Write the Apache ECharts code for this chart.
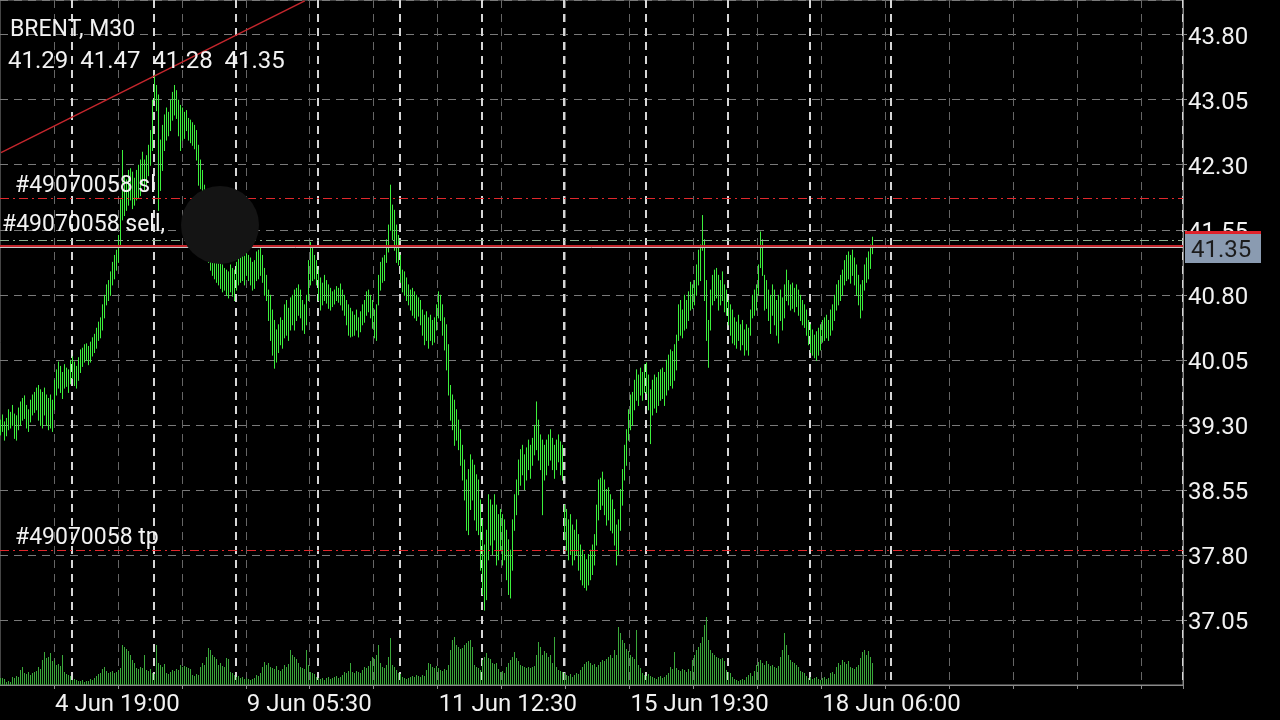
<!DOCTYPE html>
<html><head><meta charset="utf-8">
<script src="https://cdn.jsdelivr.net/npm/echarts@6/dist/echarts.min.js"></script>
<style>html,body{margin:0;padding:0;background:#000;}#c{width:1280px;height:720px;}</style>
</head><body><div id="c"></div>
<script>
const symbolName = 'BRENT, M30';
const orderId = '#49070058';
const timeLabels = ['4 Jun 19:00', '9 Jun 05:30', '11 Jun 12:30', '15 Jun 19:30', '18 Jun 06:00'];
const labelBars = [27, 123, 219, 315, 411];
const dayStartBars = [36, 77, 118, 159, 200, 241, 282, 323, 364, 405, 446];
const totalSlots = 592;
const gridEvery = 32;

const highs = [
39.36,39.42,39.34,39.38,39.48,39.45,39.53,39.43,39.41,39.50,39.57,39.61,39.64,39.53,39.48,39.59,39.65,39.68,39.73,39.76,39.71,39.68,39.73,39.65,39.61,
39.65,39.59,39.82,39.94,40.03,39.98,39.91,40.00,39.96,39.94,40.05,40.09,40.03,39.98,40.08,40.17,40.19,40.23,40.24,40.21,40.26,40.31,40.35,40.42,40.49,
40.54,40.69,40.80,40.92,40.97,41.07,41.18,41.26,41.32,41.49,41.90,42.47,42.18,42.13,42.24,42.26,42.22,42.15,42.24,42.30,42.36,42.45,42.36,42.41,42.53,
42.70,43.05,43.34,43.22,43.11,42.59,42.76,42.88,42.96,42.91,43.05,43.14,43.22,43.16,43.05,42.99,42.96,42.91,42.93,42.84,42.82,42.79,42.76,42.70,42.53,
42.36,42.24,42.07,41.78,41.49,41.38,41.32,41.26,41.23,41.18,41.23,41.15,41.11,41.09,41.07,41.15,41.11,41.09,41.18,41.23,41.26,41.30,41.25,41.32,41.26,
41.23,41.18,41.20,41.30,41.32,41.34,41.26,41.11,41.03,40.86,40.80,40.63,40.51,40.40,40.46,40.54,40.51,40.69,40.74,40.65,40.77,40.80,40.86,40.88,40.92,
40.86,40.74,40.69,40.80,41.20,41.41,41.34,41.26,41.20,41.09,41.00,40.94,41.03,40.97,40.92,40.88,40.84,40.86,40.90,40.88,40.93,40.86,40.80,40.74,40.69,
40.65,40.61,40.57,40.63,40.54,40.61,40.69,40.74,40.84,40.86,40.80,40.74,40.63,40.69,41.03,41.18,41.23,41.26,41.44,41.61,42.07,41.84,41.78,41.61,41.49,
41.26,41.09,41.07,41.00,40.92,40.86,40.88,40.84,40.80,40.77,40.74,40.63,40.57,40.61,40.54,40.57,40.51,40.54,40.69,40.84,40.80,40.69,40.54,40.46,40.23,
39.76,39.65,39.59,39.48,39.36,39.25,39.07,38.90,38.67,38.79,38.96,38.90,38.84,38.73,38.67,38.44,38.21,37.92,38.09,38.50,38.44,38.38,38.50,38.38,38.27,
38.33,38.27,38.21,38.09,37.98,37.86,38.21,38.50,38.67,38.90,39.02,39.07,38.96,39.04,39.13,39.07,39.15,39.30,39.57,39.36,39.19,39.13,39.07,39.13,39.19,
39.25,39.15,39.07,39.13,39.19,39.11,39.07,38.38,38.33,38.21,38.27,38.15,38.09,38.21,38.04,37.92,37.86,37.81,37.75,37.81,37.86,37.92,38.04,38.38,38.67,
38.69,38.76,38.67,38.56,38.58,38.50,38.44,38.33,38.15,38.21,38.56,38.79,39.07,39.25,39.48,39.65,39.68,39.82,39.94,39.88,39.96,39.91,40.00,40.02,39.88,
39.71,39.82,39.88,39.85,39.91,39.94,39.96,39.91,40.05,40.11,40.17,40.15,40.23,40.34,40.69,40.74,40.63,40.80,40.74,40.84,40.95,40.92,40.97,41.15,41.32,
41.38,41.72,41.44,40.97,40.51,40.86,41.03,41.09,41.11,41.03,40.97,41.07,40.92,40.86,40.74,40.69,40.63,40.54,40.49,40.57,40.46,40.51,40.40,40.46,40.42,
40.63,40.80,40.86,40.92,41.15,41.53,41.44,41.03,40.97,40.86,40.80,40.92,40.86,40.74,40.80,40.86,40.77,40.92,41.09,40.97,40.92,40.94,40.88,40.92,40.86,
40.80,40.74,40.69,40.63,40.51,40.46,40.40,40.34,40.38,40.42,40.46,40.51,40.54,40.57,40.51,40.63,40.69,40.80,40.92,40.97,41.03,41.09,41.20,41.26,41.30,41.26,41.32,41.23,41.15,41.03,40.92,40.97,41.15,41.23,41.30,41.38,41.47
];

const lows = [
39.19,39.23,39.13,39.18,39.25,39.27,39.30,39.15,39.13,39.25,39.30,39.36,39.38,39.27,39.23,39.34,39.42,39.45,39.48,39.36,39.30,39.27,39.42,39.30,39.25,
39.27,39.23,39.48,39.65,39.73,39.68,39.61,39.73,39.75,39.68,39.78,39.84,39.76,39.73,39.82,39.91,39.98,40.03,40.05,40.00,40.03,40.10,40.14,40.19,40.28,
40.31,40.40,40.54,40.69,40.74,40.80,40.92,40.99,41.09,41.18,41.38,41.67,41.72,41.78,41.84,41.90,41.80,41.84,41.90,41.92,41.95,42.07,42.01,42.07,42.18,
42.30,42.47,43.05,42.93,41.78,42.01,42.24,42.47,42.59,42.64,42.70,42.82,42.88,42.84,42.64,42.47,42.59,42.61,42.70,42.59,42.56,42.53,42.49,42.36,42.07,
42.03,41.90,41.61,41.32,41.18,41.09,41.03,40.99,40.95,40.92,40.88,40.84,40.86,40.80,40.77,40.84,40.79,40.74,40.86,40.92,40.95,40.97,40.92,41.03,40.97,
40.92,40.86,40.88,40.97,40.99,41.03,40.95,40.80,40.74,40.51,40.28,40.11,39.96,40.03,40.14,40.23,40.19,40.31,40.34,40.28,40.40,40.46,40.40,40.51,40.57,
40.54,40.40,40.36,40.46,40.74,40.92,40.97,40.99,40.92,40.74,40.63,40.69,40.74,40.71,40.65,40.63,40.67,40.70,40.74,40.72,40.69,40.63,40.57,40.46,40.34,
40.32,40.33,40.34,40.40,40.32,40.38,40.46,40.49,40.57,40.61,40.54,40.42,40.31,40.28,40.69,40.86,40.95,40.97,41.18,41.30,41.55,41.44,41.32,41.18,41.15,
40.95,40.84,40.80,40.74,40.69,40.63,40.57,40.54,40.51,40.56,40.46,40.34,40.23,40.28,40.19,40.28,40.23,40.26,40.40,40.54,40.51,40.34,40.17,39.94,39.65,
39.36,39.25,39.07,39.13,39.02,38.84,38.67,38.44,38.09,38.04,38.33,38.44,38.21,38.09,38.04,37.63,37.35,37.17,37.29,37.75,37.92,37.81,37.98,37.69,37.75,
37.86,37.69,37.75,37.52,37.35,37.31,37.63,38.09,38.27,38.50,38.61,38.73,38.56,38.67,38.79,38.69,38.84,38.96,39.02,38.90,38.79,38.27,38.67,38.73,38.84,
38.90,38.79,38.69,38.79,38.88,38.73,38.67,37.98,37.86,37.75,37.81,37.69,37.75,37.81,37.63,37.52,37.46,37.43,37.40,37.46,37.52,37.58,37.69,37.92,38.21,
38.33,38.38,38.27,38.15,38.21,38.09,38.06,37.92,37.69,37.81,38.09,38.38,38.67,38.84,39.13,39.25,39.30,39.48,39.59,39.53,39.65,39.59,39.68,39.67,39.48,
39.09,39.42,39.50,39.45,39.53,39.59,39.61,39.53,39.65,39.71,39.76,39.73,39.82,39.94,40.28,40.34,40.31,40.40,40.42,40.51,40.63,40.65,40.69,40.80,40.92,
40.97,41.32,40.74,40.28,39.97,40.40,40.69,40.74,40.77,40.63,40.69,40.74,40.61,40.57,40.46,40.34,40.25,40.23,40.19,40.28,40.17,40.23,40.11,40.17,40.11,
40.34,40.54,40.57,40.63,40.80,41.12,41.03,40.63,40.65,40.51,40.36,40.57,40.46,40.34,40.25,40.51,40.40,40.54,40.74,40.69,40.63,40.65,40.61,40.67,40.57,
40.51,40.46,40.43,40.34,40.23,40.14,40.11,40.08,40.05,40.11,40.17,40.26,40.28,40.31,40.28,40.34,40.40,40.51,40.63,40.69,40.74,40.80,40.92,40.97,40.99,40.94,41.03,40.92,40.80,40.69,40.54,40.63,40.86,40.95,40.99,41.11,41.28
];

const volumes = [
7,7,6,3,4,3,8,7,9,8,15,18,12,11,13,10,12,13,14,18,16,25,33,27,28,
32,24,25,20,21,19,30,13,11,10,9,5,6,5,4,4,5,3,4,4,6,5,7,9,11,
12,16,18,14,12,13,14,12,13,15,17,40,38,36,34,30,25,22,17,16,18,17,30,15,14,
16,12,11,40,22,20,18,21,12,11,13,15,14,16,15,20,18,19,18,17,16,10,9,11,10,
18,22,20,28,37,35,30,28,26,20,22,19,18,27,26,13,12,10,8,9,7,8,6,7,6,
5,6,7,10,9,12,18,23,20,22,18,17,16,19,15,14,16,20,18,21,35,30,28,26,22,
18,17,16,35,20,13,12,11,8,7,6,7,5,7,8,6,7,8,9,7,8,10,13,12,14,
22,13,12,14,13,12,15,18,17,19,24,28,26,30,40,22,18,17,20,28,47,20,18,15,12,
11,8,7,6,7,8,9,8,10,9,8,10,9,15,22,21,18,17,19,17,15,14,16,15,20,
35,45,48,40,38,36,37,40,42,44,45,38,20,18,17,15,25,28,32,27,26,22,21,22,16,
13,14,12,18,22,25,28,33,27,24,20,19,18,17,18,17,18,19,30,43,38,30,34,32,28,
30,22,48,18,15,14,13,12,10,9,11,8,10,12,11,15,18,21,23,24,22,20,21,18,20,
23,25,24,26,28,30,27,35,30,58,52,45,42,36,34,30,28,26,55,20,17,12,10,9,11,
9,8,7,6,8,9,7,8,10,12,18,16,33,17,15,14,16,15,13,16,14,25,30,35,38,
42,48,60,68,45,35,32,30,28,27,26,27,24,15,13,12,8,6,5,4,5,6,5,8,10,
12,9,14,20,23,25,22,20,24,21,19,20,18,17,19,28,35,52,40,30,25,23,22,20,18,
14,13,12,9,7,8,6,7,8,6,5,7,8,6,7,12,13,11,18,22,20,25,23,21,24,18,17,16,18,20,27,33,35,30,34,28,22
];

const lastOpen = 41.29;
const lastClose = 41.35;
const slPrice = 41.91;
const askPrice = 41.43;
const openPrice = 41.37;
const bidPrice = 41.35;
const tpPrice = 37.85;
const trendStart = [0, 42.44];
const trendEnd = [152, 44.19];

const FONT = 'Roboto';
const categories = Array.from({length: totalSlots}, (_, i) => {
  const k = labelBars.indexOf(i);
  return k >= 0 ? timeLabels[k] : '';
});
const isGrid = (i) => i >= labelBars[0] % gridEvery && (i - labelBars[0]) % gridEvery === 0;
const priceData = highs.map((h, i) => [i, h, lows[i]]);
const volData = volumes.map((v, i) => [i, v]);
// snap a bar to an even pixel column so thin coloured strokes stay crisp
const snapX = (x) => 2 * Math.floor(x / 2) + 0.5;

const chart = echarts.init(document.getElementById('c'), null, {renderer: 'canvas'});
const gray = '#8a8a8a';
const option = {
  backgroundColor: '#000',
  animation: false,
  grid: {left: 0, top: 0, right: 97, bottom: 35, show: true, borderColor: gray, borderWidth: 1, backgroundColor: '#000'},
  xAxis: [{
    type: 'category', data: categories, boundaryGap: true, position: 'bottom',
    axisLine: {show: true, lineStyle: {color: gray}},
    axisTick: {show: true, length: 4, interval: (i) => isGrid(i), lineStyle: {color: gray}},
    axisLabel: {show: true, interval: (i) => labelBars.includes(i), align: 'left', color: '#f2f2f2', fontSize: 24, fontFamily: FONT, margin: 8},
    splitLine: {show: true, interval: (i) => isGrid(i), lineStyle: {color: '#666', type: [8, 6], width: 1}}
  }, {
    type: 'category', data: categories, boundaryGap: true, position: 'bottom', offset: 0,
    axisLine: {show: false}, axisTick: {show: false}, axisLabel: {show: false},
    splitLine: {show: true, interval: (i) => dayStartBars.includes(i), lineStyle: {color: '#d6d6d6', type: [8, 6], width: 2}}
  }],
  yAxis: [{
    type: 'value', position: 'right', min: 36.30, max: 44.20, interval: 0.75,
    axisLine: {show: true, lineStyle: {color: gray}},
    axisTick: {show: true, length: 4, lineStyle: {color: gray}},
    axisLabel: {color: '#f2f2f2', fontSize: 24, fontFamily: FONT, margin: 5, showMinLabel: false, showMaxLabel: false,
      formatter: (v) => '{s|}\n{p|' + v.toFixed(2) + '}',
      rich: {
        s: {fontSize: 4, lineHeight: 6, height: 6},
        p: {fontSize: 24, fontFamily: FONT, color: '#f2f2f2', lineHeight: 24}
      }},
    splitLine: {show: true, lineStyle: {color: '#7a7a7a', type: [8, 6], width: 1}}
  }, {
    type: 'value', min: 0, max: 685, show: false, splitLine: {show: false}
  }],
  series: [{
    type: 'custom', name: 'volume', xAxisIndex: 0, yAxisIndex: 1, data: volData, clip: true,
    progressive: 0, animation: false, silent: true,
    encode: {x: 0, y: 1},
    renderItem: (params, api) => {
      const a = api.coord([api.value(0), 0]);
      const b = api.coord([api.value(0), api.value(1)]);
      const x = snapX(a[0]);
      return {type: 'line', shape: {x1: x, y1: a[1], x2: x, y2: b[1]}, style: {stroke: '#3aa83a', lineWidth: 1}};
    }
  }, {
    type: 'custom', name: 'BRENT', xAxisIndex: 0, yAxisIndex: 0, data: priceData, clip: true,
    progressive: 0, animation: false, silent: true,
    encode: {x: 0, y: [1, 2]},
    renderItem: (params, api) => {
      const a = api.coord([api.value(0), api.value(1)]);
      const b = api.coord([api.value(0), api.value(2)]);
      const x = snapX(a[0]);
      return {type: 'line', shape: {x1: x, y1: a[1], x2: x, y2: b[1] + 1}, style: {stroke: '#3cf03c', lineWidth: 1}};
    },
    markLine: {
      silent: true, symbol: ['none', 'none'], animation: false, label: {show: false},
      emphasis: {disabled: true},
      data: [
        [{coord: trendStart, lineStyle: {color: '#c4262c', width: 1.5, type: 'solid'}}, {coord: trendEnd}],
        {yAxis: slPrice, lineStyle: {color: '#e0282c', width: 1, type: [9, 4, 2, 4]}},
        {yAxis: askPrice, lineStyle: {color: '#8fae8f', width: 1, type: [9, 4, 2, 4]}},
        {yAxis: openPrice, lineStyle: {color: '#c4262c', width: 2, type: 'solid'}},
        {yAxis: bidPrice, lineStyle: {color: '#c8c8c8', width: 1, type: 'solid'}},
        {yAxis: tpPrice, lineStyle: {color: '#e0282c', width: 1, type: [9, 4, 2, 4]}}
      ]
    }
  }]
};
chart.setOption(option);

const py = (p) => chart.convertToPixel({yAxisIndex: 0}, p);
const lastHigh = highs[highs.length - 1], lastLow = lows[lows.length - 1];
const txt = (text, x, y, size, extra) => Object.assign({
  type: 'text', z: 100, silent: true,
  style: Object.assign({text, x, y, fill: '#f2f2f2', font: size + 'px ' + FONT, textVerticalAlign: 'middle', verticalAlign: 'middle'}, extra || {})
});
const yBid = py(bidPrice);
chart.setOption({
  graphic: [
    txt(symbolName, 10, 30, 23),
    txt([lastOpen, lastHigh, lastLow, lastClose].map(v => v.toFixed(2)).join('  '), 8, 62, 24),
    txt(orderId + ' sl', 15, py(slPrice) - 12, 23),
    txt(orderId + ' sell,', 2, py(openPrice) - 20, 23),
    txt(orderId + ' tp', 15, py(tpPrice) - 12, 23),
    {type: 'circle', z: 101, silent: true, shape: {cx: 220, cy: 225, r: 39}, style: {fill: '#141414'}},
    {type: 'rect', z: 102, silent: true, shape: {x: 1185, y: yBid - 14, width: 76, height: 30}, style: {fill: '#8a9bb1'}},
    {type: 'rect', z: 103, silent: true, shape: {x: 1185, y: yBid - 16, width: 76, height: 3}, style: {fill: '#e0222a'}},
    Object.assign(txt(lastClose.toFixed(2), 1191, yBid + 4, 24, {fill: '#1c1c1c'}), {z: 105})
  ]
});
</script>
</body></html>
